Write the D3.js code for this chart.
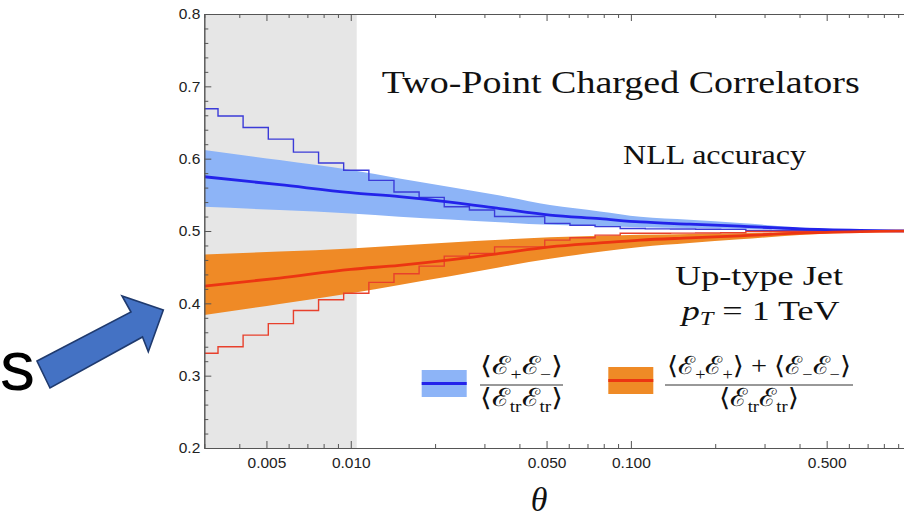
<!DOCTYPE html>
<html><head><meta charset="utf-8">
<script src="https://cdn.jsdelivr.net/npm/d3@7"></script>
<style>html,body{margin:0;padding:0;background:#fff;}svg{display:block;}</style>
</head><body>
<script>
// ---------- data ----------
const histEdges = [0.003, 0.003358, 0.004127, 0.005077, 0.006242, 0.007674, 0.009433, 0.011604, 0.014265, 0.017538,
  0.021562, 0.02652, 0.03261, 0.04009, 0.04926, 0.0606, 0.0745, 0.0916, 0.1126, 0.1385, 0.1703, 0.2093, 0.2573,
  0.3165, 0.389, 0.4782, 0.5879, 0.7231, 0.8889, 1.0];
const oppHist = [0.669, 0.659, 0.643, 0.627, 0.609, 0.594, 0.584, 0.570, 0.554, 0.5465, 0.5335, 0.529, 0.520, 0.520,
  0.5105, 0.508, 0.506, 0.5035, 0.503, 0.5028, 0.5025, 0.5022, 0.5008, 0.5005, 0.5006, 0.5003, 0.5003, 0.5002, 0.5001];
const sameHist = [0.331, 0.340, 0.356, 0.372, 0.390, 0.405, 0.414, 0.429, 0.441, 0.4515, 0.4653, 0.469, 0.478, 0.478,
  0.4874, 0.4906, 0.4943, 0.4968, 0.4968, 0.497, 0.4972, 0.4975, 0.4993, 0.4995, 0.4994, 0.4997, 0.4997, 0.4998, 0.4999];

const bandTheta   = [0.003, 0.00557, 0.01, 0.0149, 0.0226, 0.0341, 0.0514, 0.0775, 0.108, 0.162, 0.245, 0.401, 0.658, 1.0];
const oppCentral  = [0.575, 0.564, 0.553, 0.5475, 0.540, 0.531, 0.522, 0.517, 0.5125, 0.5095, 0.5066, 0.503, 0.501, 0.500];
const oppLow      = [0.5335, 0.529, 0.5242, 0.5197, 0.5159, 0.512, 0.5085, 0.5065, 0.5052, 0.504, 0.503, 0.5015, 0.5005, 0.500];
const oppHigh     = [0.612, 0.598, 0.5842, 0.5727, 0.561, 0.549, 0.5358, 0.527, 0.5197, 0.5155, 0.511, 0.505, 0.5015, 0.500];
const sameCentral = [0.4238, 0.435, 0.447, 0.4525, 0.460, 0.469, 0.478, 0.4835, 0.4875, 0.4905, 0.4934, 0.497, 0.499, 0.500];
const sameHigh    = [0.4676, 0.4715, 0.4758, 0.480, 0.4842, 0.488, 0.4915, 0.4935, 0.4948, 0.496, 0.497, 0.4985, 0.4995, 0.500];
const sameLow     = [0.3837, 0.399, 0.414, 0.4255, 0.4375, 0.450, 0.4615, 0.4712, 0.478, 0.4835, 0.4885, 0.4945, 0.498, 0.500];

const shadedRegion = [0.003, 0.0105];
const xMajorTicks = [0.005, 0.01, 0.05, 0.1, 0.5];
const xMinorTicks = [0.003, 0.004, 0.006, 0.007, 0.008, 0.009, 0.02, 0.03, 0.04, 0.06, 0.07, 0.08, 0.09,
  0.2, 0.3, 0.4, 0.6, 0.7, 0.8, 0.9];
const yMajorTicks = [0.2, 0.3, 0.4, 0.5, 0.6, 0.7, 0.8];
const yMinorTicks = [0.22, 0.24, 0.26, 0.28, 0.32, 0.34, 0.36, 0.38, 0.42, 0.44, 0.46, 0.48,
  0.52, 0.54, 0.56, 0.58, 0.62, 0.64, 0.66, 0.68, 0.72, 0.74, 0.76, 0.78];

// ---------- layout ----------
const W = 904, H = 521;
const X0 = 204.3, X1 = 911, Y0 = 448, Y1 = 14;
const C = {
  gray: "#e6e6e6", blueBand: "#8db4f7", blueLine: "#2323ea", blueHist: "#3b3bd8",
  orangeBand: "#ef8a26", redLine: "#ec3512", redHist: "#e8402c", axis: "#555"
};

const svg = d3.select("body").append("svg").attr("width", W).attr("height", H);
const x = d3.scaleLog().domain([0.003, 1.0]).range([X0, X1]);
const y = d3.scaleLinear().domain([0.2, 0.8]).range([Y0, Y1]);

svg.append("defs").append("clipPath").attr("id", "plotclip")
  .append("rect").attr("x", X0).attr("y", Y1).attr("width", X1 - X0).attr("height", Y0 - Y1);

const plot = svg.append("g").attr("clip-path", "url(#plotclip)");

plot.append("rect")
  .attr("x", x(shadedRegion[0])).attr("y", Y1)
  .attr("width", x(shadedRegion[1]) - x(shadedRegion[0])).attr("height", Y0 - Y1)
  .attr("fill", C.gray);

const bandData = (lo, hi) => bandTheta.map((t, i) => ({t, lo: lo[i], hi: hi[i]}));
const area = d3.area().x(d => x(d.t)).y0(d => y(d.lo)).y1(d => y(d.hi)).curve(d3.curveMonotoneX);
const line = d3.line().x(d => x(d.t)).y(d => y(d.v)).curve(d3.curveMonotoneX);

plot.append("path").datum(bandData(oppLow, oppHigh)).attr("d", area).attr("fill", C.blueBand);
plot.append("path").datum(bandData(sameLow, sameHigh)).attr("d", area).attr("fill", C.orangeBand);

const stepLine = d3.line().x(d => x(d.t)).y(d => y(d.v)).curve(d3.curveStepAfter);
const histPts = vals => {
  const pts = vals.map((v, i) => ({t: histEdges[i], v}));
  pts.push({t: histEdges[histEdges.length - 1], v: vals[vals.length - 1]});
  return pts;
};
plot.append("path").datum(histPts(oppHist)).attr("d", stepLine)
  .attr("fill", "none").attr("stroke", C.blueHist).attr("stroke-width", 1.4);
plot.append("path").datum(histPts(sameHist)).attr("d", stepLine)
  .attr("fill", "none").attr("stroke", C.redHist).attr("stroke-width", 1.4);

plot.append("path").datum(bandTheta.map((t, i) => ({t, v: oppCentral[i]}))).attr("d", line)
  .attr("fill", "none").attr("stroke", C.blueLine).attr("stroke-width", 2.8);
plot.append("path").datum(bandTheta.map((t, i) => ({t, v: sameCentral[i]}))).attr("d", line)
  .attr("fill", "none").attr("stroke", C.redLine).attr("stroke-width", 2.8);

// ---------- axes ----------
function styleAxis(g) {
  g.select(".domain").attr("stroke", C.axis).attr("stroke-width", 1);
  g.selectAll(".tick line").attr("stroke", C.axis).attr("stroke-width", 1);
  g.selectAll(".tick text").attr("fill", "#222").attr("font-family", "'Liberation Sans', Arial, sans-serif")
    .attr("font-size", 15.5);
}
svg.append("g").attr("transform", `translate(0,${Y0})`)
  .call(d3.axisBottom(x).tickValues(xMinorTicks).tickSizeInner(-4).tickSizeOuter(0).tickFormat(""))
  .call(styleAxis);
svg.append("g").attr("transform", `translate(0,${Y0})`)
  .call(d3.axisBottom(x).tickValues(xMajorTicks).tickSizeInner(-7).tickSizeOuter(0).tickPadding(9)
    .tickFormat(d3.format(".3f")))
  .call(styleAxis);
svg.append("g").attr("transform", `translate(0,${Y1})`)
  .call(d3.axisTop(x).tickValues(xMinorTicks).tickSizeInner(-4).tickSizeOuter(0).tickFormat(""))
  .call(styleAxis);
svg.append("g").attr("transform", `translate(0,${Y1})`)
  .call(d3.axisTop(x).tickValues(xMajorTicks).tickSizeInner(-7).tickSizeOuter(0).tickFormat(""))
  .call(styleAxis);
svg.append("g").attr("transform", `translate(${X0},0)`)
  .call(d3.axisLeft(y).tickValues(yMinorTicks).tickSizeInner(-4).tickSizeOuter(0).tickFormat(""))
  .call(styleAxis);
svg.append("g").attr("transform", `translate(${X0},0)`)
  .call(d3.axisLeft(y).tickValues(yMajorTicks).tickSizeInner(-7).tickSizeOuter(0).tickPadding(4)
    .tickFormat(d3.format(".1f")))
  .call(styleAxis);

const serif = "'Liberation Serif', 'DejaVu Serif', serif";
svg.append("text").attr("x", 539).attr("y", 511).attr("text-anchor", "middle")
  .attr("font-family", serif).attr("font-style", "italic").attr("font-size", 34).attr("fill", "#111").text("θ");

// ---------- annotations ----------
const ann = (txt, x0, yb, size, len) => svg.append("text").attr("x", x0).attr("y", yb)
  .attr("font-family", serif).attr("font-size", size).attr("fill", "#111")
  .attr("textLength", len).attr("lengthAdjust", "spacingAndGlyphs").text(txt);
ann("Two-Point Charged Correlators", 381.7, 93, 31, 478);
ann("NLL accuracy", 623, 164, 27, 183);
ann("Up-type Jet", 675, 285, 28, 168);
const pt = svg.append("text").attr("x", 681.7).attr("y", 320).attr("font-family", serif)
  .attr("font-size", 28).attr("fill", "#111").attr("textLength", 158).attr("lengthAdjust", "spacingAndGlyphs");
pt.append("tspan").attr("font-style", "italic").text("p");
pt.append("tspan").attr("font-style", "italic").attr("font-size", 19).attr("dy", 5).text("T");
pt.append("tspan").attr("dy", -5).text(" = 1 TeV");

// ---------- legend ----------
function swatch(x0, y0, band, ln) {
  svg.append("rect").attr("x", x0).attr("y", y0).attr("width", 45).attr("height", 27).attr("fill", band);
  svg.append("line").attr("x1", x0).attr("x2", x0 + 45).attr("y1", y0 + 13.5).attr("y2", y0 + 13.5)
    .attr("stroke", ln).attr("stroke-width", 3);
}
swatch(421.7, 370, C.blueBand, C.blueLine);
swatch(608.3, 367, C.orangeBand, C.redLine);

function mathText(cx, yb, len, parts) {
  const t = svg.append("text").attr("x", cx - len / 2).attr("y", yb)
    .attr("font-family", serif).attr("font-size", 25).attr("fill", "#111")
    .attr("textLength", len).attr("lengthAdjust", "spacingAndGlyphs");
  let shifted = 0;
  parts.forEach(p => {
    const sp = t.append("tspan").text(p.s);
    if (p.sub) { sp.attr("font-size", 16).attr("dy", 6 - shifted); shifted = 6; }
    else if (shifted) { sp.attr("dy", -shifted); shifted = 0; }
  });
  return t;
}
const E = "\u2130";
mathText(521.5, 374, 83, [{s: "⟨" + E}, {s: "+", sub: 1}, {s: E}, {s: "−", sub: 1}, {s: "⟩"}]);
svg.append("line").attr("x1", 480).attr("x2", 563).attr("y1", 385).attr("y2", 385).attr("stroke", "#333").attr("stroke-width", 1);
mathText(521.5, 406, 83, [{s: "⟨" + E}, {s: "tr", sub: 1}, {s: E}, {s: "tr", sub: 1}, {s: "⟩"}]);
mathText(759, 374, 184, [{s: "⟨" + E}, {s: "+", sub: 1}, {s: E}, {s: "+", sub: 1}, {s: "⟩ + ⟨" + E}, {s: "−", sub: 1},
  {s: E}, {s: "−", sub: 1}, {s: "⟩"}]);
svg.append("line").attr("x1", 665).attr("x2", 853).attr("y1", 385).attr("y2", 385).attr("stroke", "#333").attr("stroke-width", 1);
mathText(759, 406, 80, [{s: "⟨" + E}, {s: "tr", sub: 1}, {s: E}, {s: "tr", sub: 1}, {s: "⟩"}]);

// ---------- slide decorations ----------
svg.append("text").attr("x", 0).attr("y", 390).attr("font-family", "'Liberation Sans', Arial, sans-serif")
  .attr("font-size", 70).attr("fill", "#000").text("s");
svg.append("path")
  .attr("d", "M37,361 L131,312 L122,296 L163.3,310 L148.3,351.7 L142.5,337 L50,388 Z")
  .attr("fill", "#4472c4").attr("stroke", "#1f3a6e").attr("stroke-width", 1.6).attr("stroke-linejoin", "miter");
</script>
</body></html>
